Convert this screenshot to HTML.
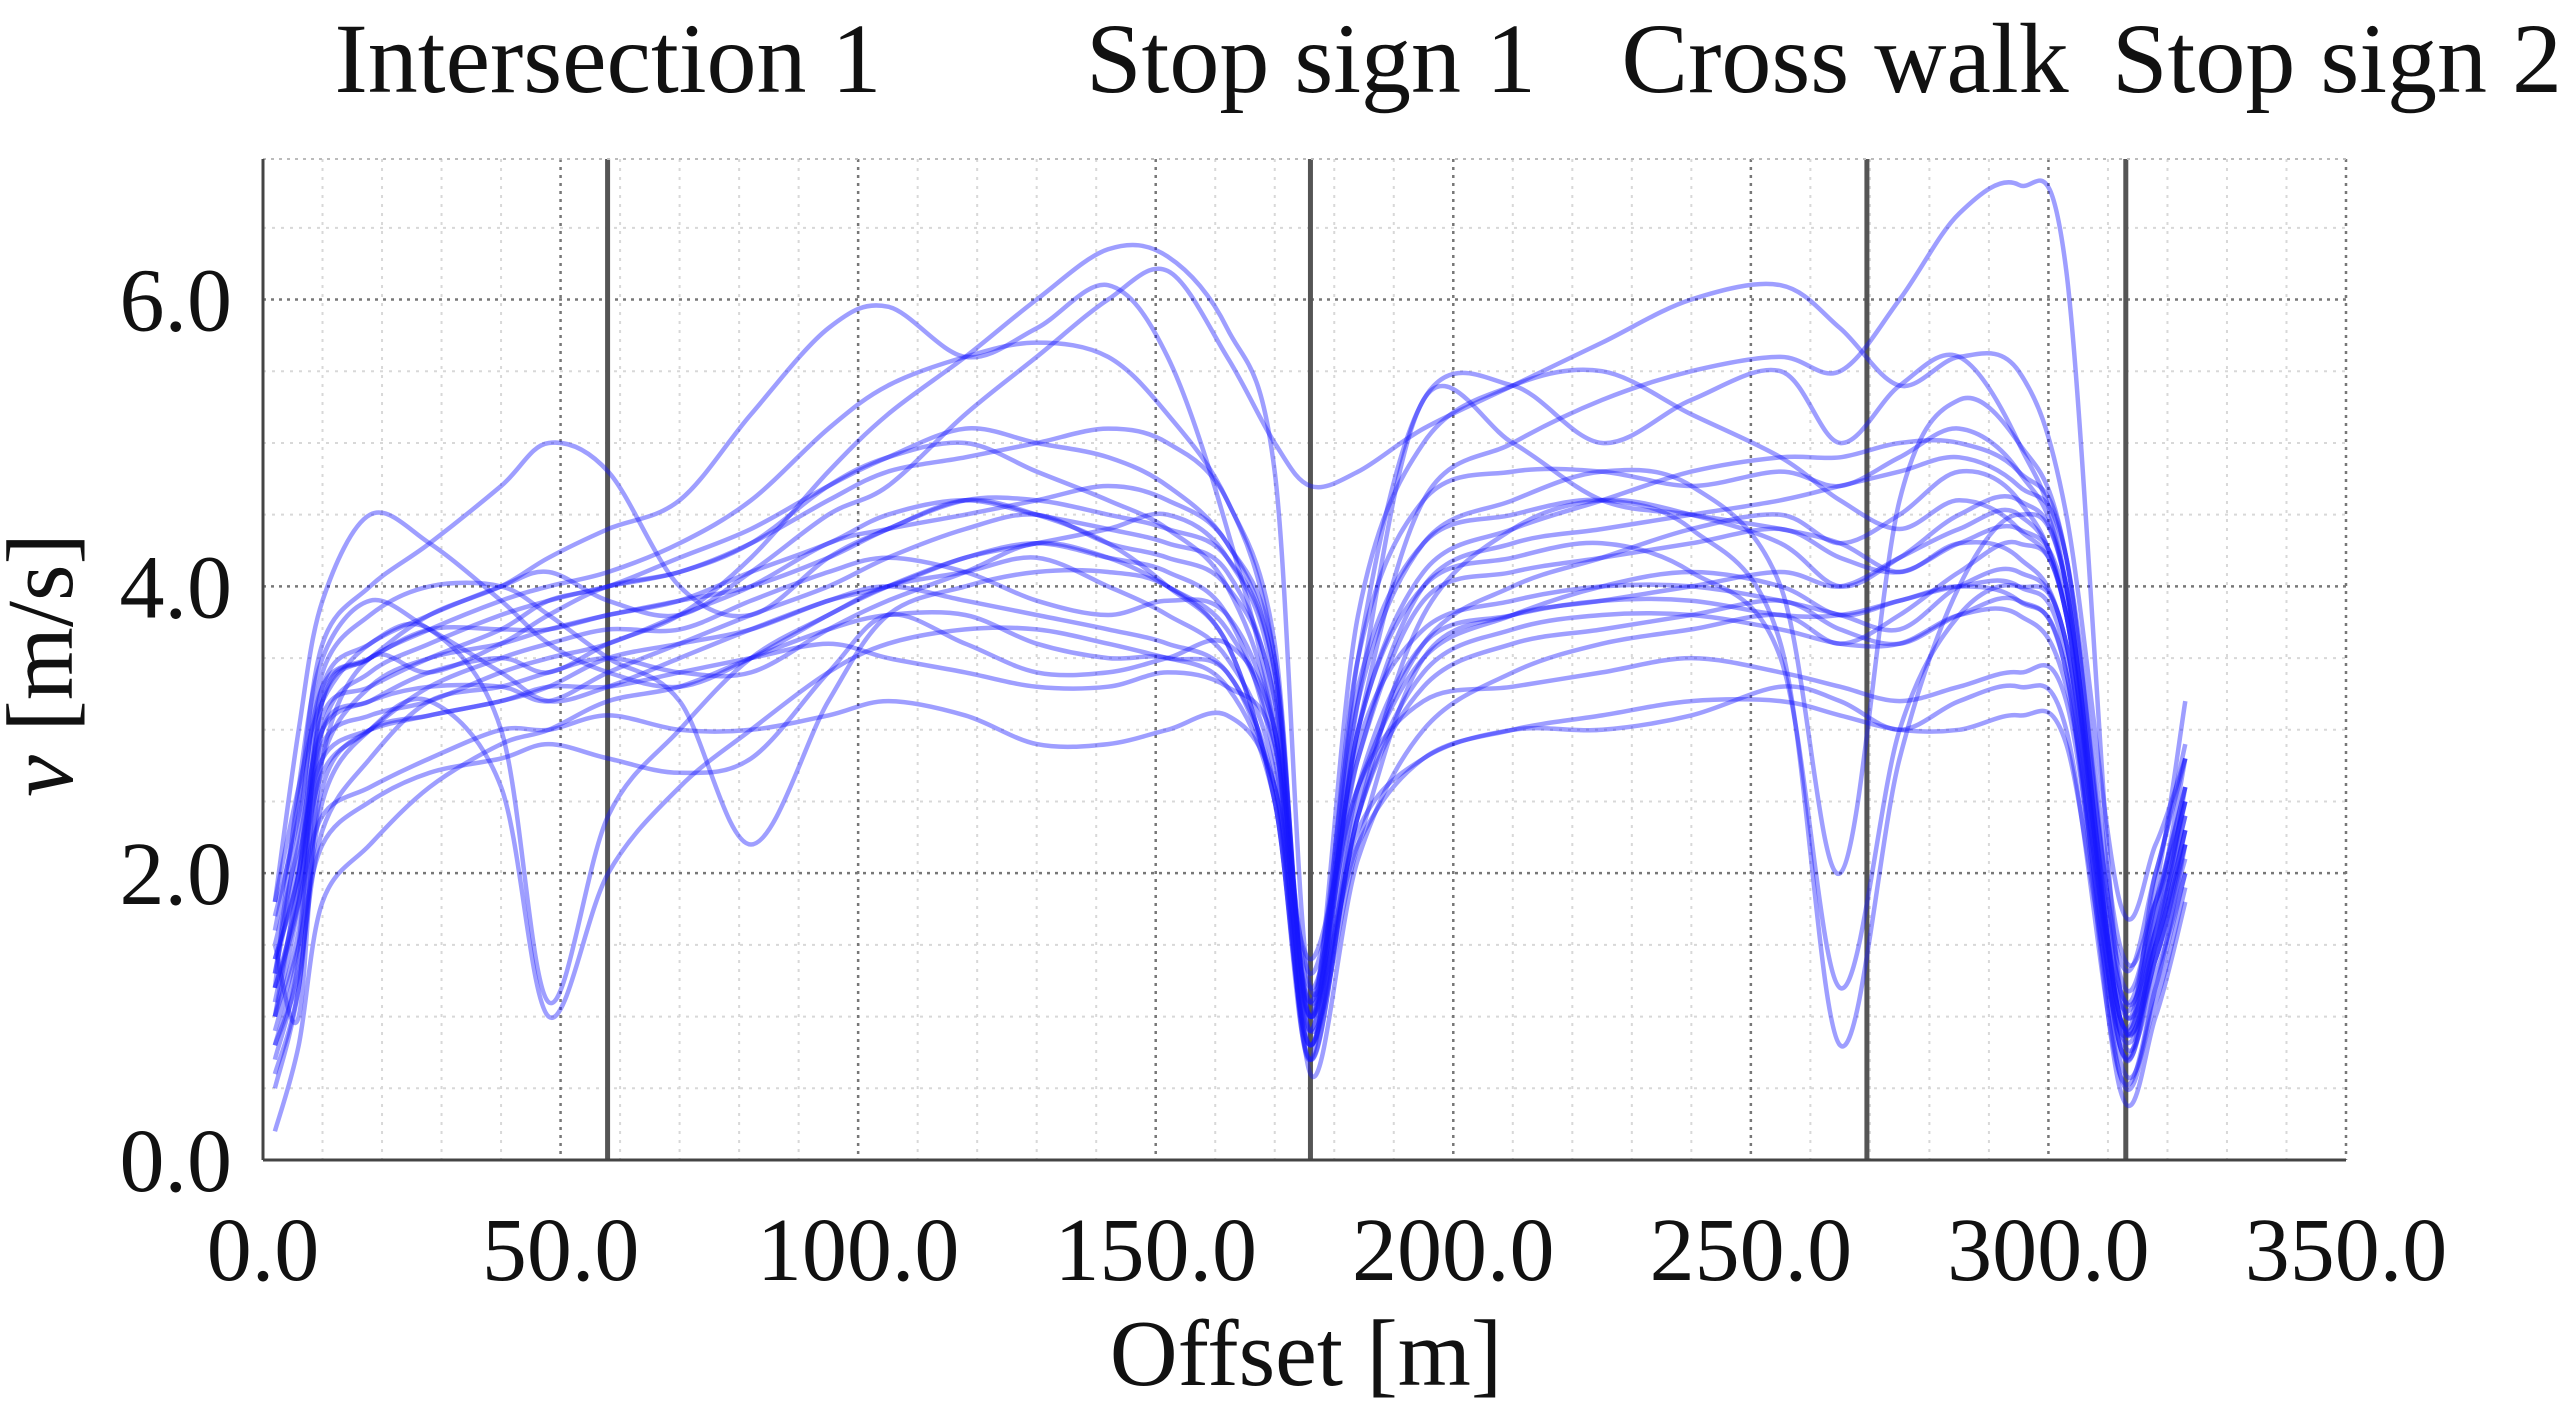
<!DOCTYPE html>
<html><head><meta charset="utf-8"><style>
html,body{margin:0;padding:0;background:#fff;}
svg{display:block;}
text{font-family:"Liberation Serif",serif;fill:#111;}
</style></head><body>
<svg id="chart" width="2576" height="1423" viewBox="0 0 2576 1423" xmlns="http://www.w3.org/2000/svg">
<g id="grid"></g>
<g id="marks"></g>
<g id="series"></g>
<g id="axes"></g>
<text x="72" y="665" font-size="94" text-anchor="middle" transform="rotate(-90 72 665)"><tspan font-style="italic">v</tspan> [m/s]</text>
<text x="1306" y="1385" font-size="94" text-anchor="middle">Offset [m]</text>
</svg>
<script>
const xTicks=[0,50,100,150,200,250,300,350];
const xTickLabels=["0.0","50.0","100.0","150.0","200.0","250.0","300.0","350.0"];
const yTicks=[0,2,4,6];
const yTickLabels=["0.0","2.0","4.0","6.0"];
const eventOffsets=[57.9,176,269.5,313];
const eventLabels=["Intersection 1","Stop sign 1","Cross walk","Stop sign 2"];
const eventLabelCenters=[608,1311,1845,2337];
const sampleOffsets=[2,6,10,18,28,40,48,58,70,82,95,105,118,130,142,152,162,170,176,184,195,210,225,240,255,265,275,285,295,303,312,318,323];
const s1=[1.5,1.0,2.8,3.5,3.4,3.6,3.8,4.0,4.1,4.3,4.6,4.8,4.9,5.0,5.1,5.0,4.6,3.5,1.0,3.0,4.6,5.0,5.3,5.5,5.6,5.5,6.0,6.6,6.8,6.2,1.2,2.0,2.8];
const s2=[1.2,1.8,3.0,3.2,3.4,3.5,3.4,3.6,3.8,4.2,4.8,5.2,5.6,6.0,6.35,6.3,5.8,4.8,1.2,2.8,4.0,4.3,4.4,4.5,4.6,4.7,4.8,4.9,4.7,4.2,1.5,1.8,2.5];
const s3=[0.8,1.5,3.2,3.5,3.8,4.0,4.2,4.4,4.6,5.2,5.8,5.95,5.6,5.8,6.1,5.6,4.4,3.0,0.7,3.5,5.3,5.4,5.0,5.3,5.5,5.0,5.4,5.6,5.0,4.0,0.8,1.5,2.2];
const s4=[1.6,2.5,3.6,4.0,4.3,4.7,5.0,4.8,4.0,3.8,4.2,4.4,4.6,4.5,4.3,4.0,3.6,2.5,0.8,2.4,3.8,4.4,4.6,4.5,4.3,4.0,4.2,4.5,4.6,4.0,1.0,1.8,2.6];
const s5=[1.0,2.0,3.3,3.6,3.8,4.0,4.1,3.9,3.8,4.1,4.5,4.7,5.2,5.6,6.0,6.2,5.6,5.0,4.7,4.8,5.1,5.4,5.7,6.0,6.1,5.8,5.4,5.6,5.5,4.5,1.8,2.2,2.8];
const s6=[1.8,2.6,3.2,3.6,3.7,3.0,1.1,2.4,3.0,3.5,3.8,4.0,4.2,4.3,4.2,4.1,3.8,2.8,0.9,2.2,3.5,3.8,3.9,4.0,4.1,4.0,4.2,4.4,4.5,3.8,0.9,1.3,2.0];
const s7=[0.6,1.2,2.5,3.0,3.2,2.6,1.0,2.0,2.6,3.0,3.4,3.6,3.7,3.7,3.6,3.5,3.4,2.6,1.4,2.6,3.5,3.8,4.0,4.1,4.0,3.8,3.9,4.0,3.9,3.4,0.5,1.0,1.8];
const s8=[1.3,2.3,3.4,3.8,4.0,4.0,3.8,3.5,3.2,2.2,3.2,3.8,4.0,4.1,4.1,4.0,3.6,2.5,0.8,2.5,3.6,4.0,4.2,4.4,4.5,4.3,4.5,4.8,4.6,3.8,1.2,1.6,2.4];
const s9=[1.0,1.6,2.8,3.3,3.5,3.6,3.7,3.8,3.9,4.1,4.3,4.5,4.6,4.5,4.4,4.3,4.1,3.2,1.1,3.3,4.3,4.5,4.6,4.4,3.6,0.8,2.8,4.0,4.5,4.0,1.0,1.5,2.3];
const s10=[1.5,2.2,3.0,3.2,3.3,3.3,3.2,3.4,3.6,3.8,4.0,4.2,4.4,4.5,4.3,4.2,4.0,3.2,0.8,3.0,4.0,4.2,4.3,4.1,3.5,1.2,3.0,3.8,4.0,3.6,0.8,1.4,2.1];
const s11=[1.4,2.0,2.9,3.1,3.2,3.4,3.5,3.6,3.8,4.0,4.3,4.4,4.5,4.6,4.7,4.6,4.3,3.4,1.0,3.2,4.3,4.6,4.8,4.7,4.0,2.0,4.6,5.3,5.0,4.2,1.3,1.8,2.6];
const s12=[1.2,1.8,2.4,2.6,2.8,3.0,3.0,3.1,3.0,3.0,3.1,3.2,3.1,2.9,2.9,3.0,3.1,2.6,1.0,2.3,2.8,3.0,3.0,3.1,3.3,3.2,3.0,3.2,3.3,3.0,0.6,1.2,2.0];
const s13=[0.9,1.5,2.2,2.5,2.7,2.8,2.9,2.8,2.7,2.8,3.4,3.8,3.6,3.4,3.4,3.5,3.6,3.0,1.2,2.6,3.2,3.3,3.4,3.5,3.4,3.3,3.2,3.3,3.4,3.2,0.9,1.4,2.2];
const s14=[1.4,2.0,3.1,3.3,3.5,3.7,3.9,4.0,4.2,4.4,4.7,4.9,5.1,5.0,4.9,4.7,4.3,3.5,1.0,3.8,5.0,5.4,5.5,5.2,4.9,4.6,4.4,4.6,4.4,3.8,1.0,1.6,2.4];
const s15=[0.7,1.4,3.0,3.4,3.6,3.8,3.9,4.0,4.1,4.3,4.7,4.9,5.0,4.8,4.6,4.4,4.0,3.0,0.9,3.2,5.3,5.0,4.6,4.5,4.4,4.3,4.1,4.3,4.2,3.6,1.1,1.5,2.3];
const s16=[1.1,1.9,2.7,3.0,3.3,3.5,3.6,3.7,3.7,3.9,4.1,4.2,4.1,3.9,3.8,3.9,3.8,3.0,1.3,2.8,3.9,4.1,4.2,4.3,4.4,4.2,4.1,4.3,4.4,3.9,1.4,2.0,2.9];
const s17=[1.8,3.0,3.9,4.5,4.3,3.9,3.6,3.4,3.3,3.5,3.8,4.0,4.1,4.2,4.0,3.8,3.5,2.7,0.7,2.4,3.3,3.6,3.7,3.8,3.9,3.7,3.6,3.8,3.9,3.4,0.7,1.1,1.9];
const s18=[0.5,1.2,2.6,3.0,3.1,3.2,3.3,3.5,3.6,3.7,3.9,4.0,4.2,4.3,4.4,4.5,4.2,3.3,0.6,2.1,3.0,3.4,3.6,3.7,3.8,3.6,3.8,4.1,4.3,3.8,0.8,1.6,2.5];
const s19=[1.3,2.1,2.8,3.0,3.1,3.2,3.3,3.3,3.4,3.5,3.6,3.5,3.4,3.3,3.3,3.4,3.3,2.9,1.1,2.2,2.8,3.0,3.1,3.2,3.2,3.1,3.0,3.0,3.1,2.9,0.9,1.7,2.8];
const s20=[1.7,2.4,3.3,3.5,3.7,3.7,3.7,3.8,3.9,4.0,4.2,4.4,4.6,4.6,4.5,4.4,4.2,3.4,1.0,3.0,4.1,4.4,4.6,4.8,4.9,4.9,5.0,5.0,4.8,4.2,1.2,1.9,3.2];
const s21=[1.0,1.8,3.2,3.5,3.7,3.9,4.0,4.1,4.3,4.6,5.1,5.4,5.6,5.7,5.6,5.2,4.6,3.6,0.9,3.5,4.6,4.8,4.8,4.7,4.8,4.7,4.9,5.1,4.8,4.0,1.0,1.5,2.6];
const s22=[1.2,2.6,3.5,3.9,3.7,3.4,3.2,3.3,3.5,3.7,3.9,4.0,3.9,3.8,3.7,3.6,3.4,2.6,0.8,2.6,3.6,3.8,3.9,3.9,3.8,3.8,3.9,4.0,4.0,3.5,0.6,1.2,2.2];
const s23=[0.2,0.8,1.8,2.2,2.6,2.9,3.0,3.2,3.3,3.5,3.7,3.8,3.8,3.6,3.5,3.5,3.3,2.5,0.7,2.4,3.4,3.7,3.8,3.8,3.7,3.6,3.6,3.8,3.8,3.3,1.1,1.7,2.5];
const s24=[0.8,1.3,2.3,2.8,3.2,3.3,3.4,3.5,3.4,3.4,3.7,3.9,4.1,4.3,4.2,4.0,3.7,2.9,1.1,2.9,3.7,3.9,4.0,4.0,3.9,3.8,3.7,4.0,4.1,3.6,1.0,1.4,2.3];
const allSeries=[s1,s2,s3,s4,s5,s6,s7,s8,s9,s10,s11,s12,s13,s14,s15,s16,s17,s18,s19,s20,s21,s22,s23,s24];

const L=263,R=2346,T=159,B=1160,XMAX=350,YMAX=6.98;
const NS="http://www.w3.org/2000/svg";
function xs(v){return L+(R-L)*v/XMAX;}
function ys(v){return B-(B-T)*v/YMAX;}
function mk(tag,attrs,parent){const e=document.createElementNS(NS,tag);for(const k in attrs)e.setAttribute(k,attrs[k]);parent.appendChild(e);return e;}
const gridG=document.getElementById('grid'),axesG=document.getElementById('axes'),marksG=document.getElementById('marks'),serG=document.getElementById('series');
for(let v=10;v<XMAX;v+=10){if(v%50===0)continue;
 const g=mk('line',{x1:xs(v),x2:xs(v),y1:T,y2:B,stroke:'#d8d8d8','stroke-width':2,'stroke-dasharray':'3 6'},gridG);
 
 }
for(let v=0.5;v<YMAX;v+=0.5){if(Math.abs(v%2)<1e-6)continue;
 const g=mk('line',{x1:L,x2:R,y1:ys(v),y2:ys(v),stroke:'#d8d8d8','stroke-width':2,'stroke-dasharray':'3 6'},gridG);
 
 }
xTicks.forEach((v,i)=>{
 const g=mk('line',{x1:xs(v),x2:xs(v),y1:T,y2:B,stroke:'#777','stroke-width':2.5,'stroke-dasharray':'3 5'},gridG);
 
 
 const t=mk('text',{x:xs(v),y:1280,'font-size':90,'text-anchor':'middle'},axesG);t.textContent=xTickLabels[i];
 
 });
yTicks.forEach((v,i)=>{
 const g=mk('line',{x1:L,x2:R,y1:ys(v),y2:ys(v),stroke:'#777','stroke-width':2.5,'stroke-dasharray':'3 5'},gridG);
 
 
 const t=mk('text',{x:232,y:ys(v)+31,'font-size':90,'text-anchor':'end'},axesG);t.textContent=yTickLabels[i];
 
 });
const topBorder=mk('line',{x1:L,x2:R,y1:T,y2:T,stroke:'#bbb','stroke-width':2,'stroke-dasharray':'3 5'},axesG);


const xAxisLine=mk('line',{x1:L,x2:R,y1:B,y2:B,stroke:'#444','stroke-width':3},axesG);


const yAxisLine=mk('line',{x1:L,x2:L,y1:T,y2:B,stroke:'#444','stroke-width':3},axesG);


eventOffsets.forEach((v,i)=>{
 const l=mk('line',{x1:xs(v),x2:xs(v),y1:T,y2:B,stroke:'#555','stroke-width':5},marksG);
 
 
 const t=mk('text',{x:eventLabelCenters[i],y:92,'font-size':100,'text-anchor':'middle'},axesG);t.textContent=eventLabels[i];
 
 });
function pathFor(vals){
 const p=sampleOffsets.map((x,i)=>[xs(x),ys(vals[i])]);
 let d='M'+p[0][0].toFixed(1)+','+p[0][1].toFixed(1);
 for(let i=0;i<p.length-1;i++){
  const p0=p[Math.max(0,i-1)],p1=p[i],p2=p[i+1],p3=p[Math.min(p.length-1,i+2)];
  const c1=[p1[0]+(p2[0]-p0[0])/6,p1[1]+(p2[1]-p0[1])/6],c2=[p2[0]-(p3[0]-p1[0])/6,p2[1]-(p3[1]-p1[1])/6];
  d+='C'+c1.map(n=>n.toFixed(1)).join(',')+' '+c2.map(n=>n.toFixed(1)).join(',')+' '+p2.map(n=>n.toFixed(1)).join(',');}
 return d;}
allSeries.forEach(s=>{
 const e=mk('path',{d:pathFor(s),fill:'none',stroke:'rgba(25,25,255,0.42)','stroke-width':4.5,'stroke-linejoin':'round'},serG);
 
 });
</script>
</body></html>
